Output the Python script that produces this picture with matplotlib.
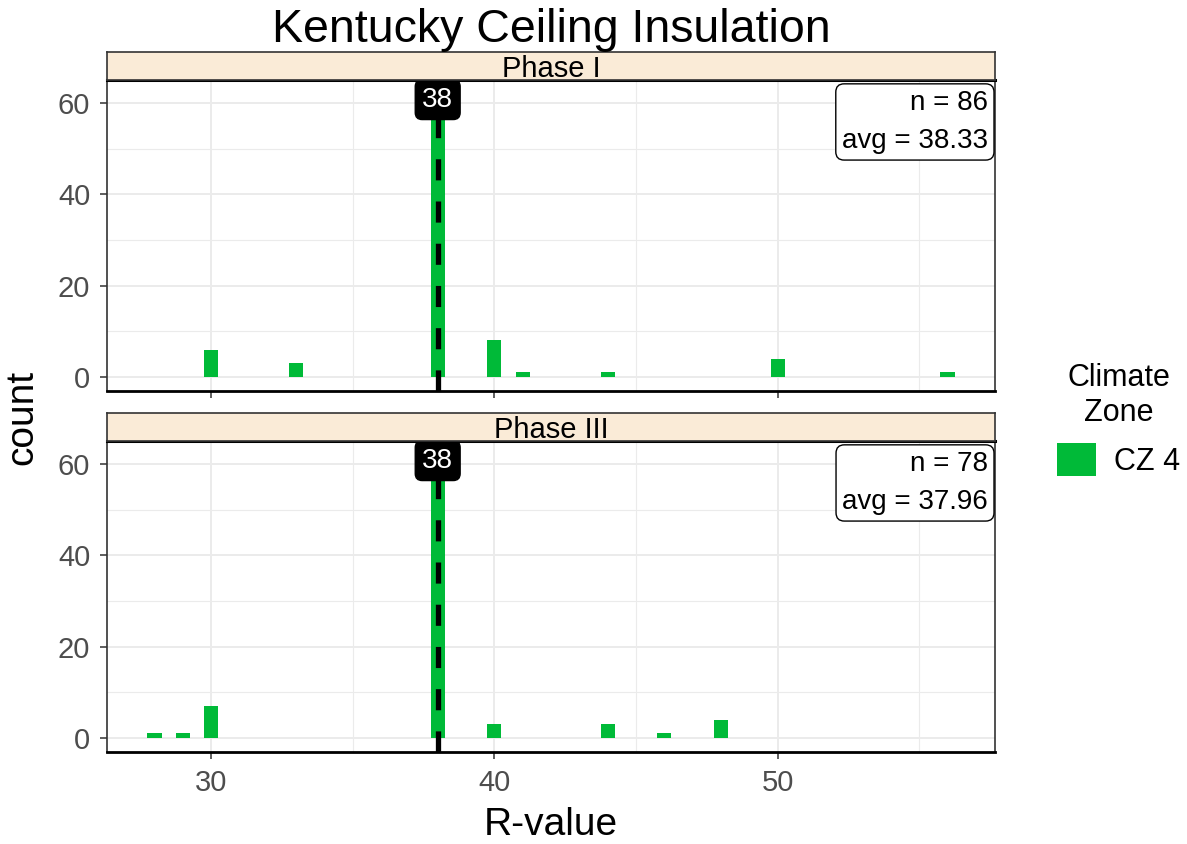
import matplotlib
matplotlib.use("Agg")
import matplotlib.pyplot as plt
from matplotlib.patches import Patch
import numpy as np

plt.rcParams['font.family'] = ['Liberation Sans', 'DejaVu Sans']

# ---- data ----
phases = ["Phase I", "Phase III"]
rvals_phase1 = [30, 33, 38, 40, 41, 44, 50, 56]
counts_phase1 = [6, 3, 62, 8, 1, 1, 4, 1]
rvals_phase3 = [28, 29, 30, 38, 40, 44, 46, 48]
counts_phase3 = [1, 1, 7, 58, 3, 3, 1, 4]
medians = [38, 38]
n_values = [86, 78]
avg_values = [38.33, 37.96]
legend_title = "Climate\nZone"
legend_label = "CZ 4"
title = "Kentucky Ceiling Insulation"
x_ticks = [30, 40, 50]
y_ticks = [0, 20, 40, 60]

GREEN = "#00BA38"
STRIP = "#FAEBD7"
GRID = "#EBEBEB"
TICKC = "#4D4D4D"

W, H = 1187, 844
fig = plt.figure(figsize=(W / 100, H / 100), dpi=100)

def fx(px):
    return px / W

def fy(py):
    return 1 - py / H

left_px, right_px = 107, 995
panels_px = [(80, 391), (441, 752)]
strips_px = [(52, 80), (413, 441)]

series = [(rvals_phase1, counts_phase1), (rvals_phase3, counts_phase3)]
ymax = max(max(counts_phase1), max(counts_phase3))
xmin = min(min(rvals_phase1), min(rvals_phase3)) - 0.25
xmax = max(max(rvals_phase1), max(rvals_phase3)) + 0.25
xr = xmax - xmin

for i in range(2):
    top, bot = panels_px[i]
    ax = fig.add_axes([fx(left_px), fy(bot), fx(right_px - left_px), (bot - top) / H])
    ax.set_xlim(xmin - 0.05 * xr, xmax + 0.05 * xr)
    ax.set_ylim(-0.05 * ymax, ymax * 1.05)
    ax.set_axisbelow(True)
    ax.set_xticks(x_ticks)
    ax.set_xticks([35, 45, 55], minor=True)
    ax.set_yticks(y_ticks)
    ax.set_yticks([10, 30, 50], minor=True)
    ax.grid(True, which='major', color=GRID, lw=1.4)
    ax.grid(True, which='minor', color=GRID, lw=0.8)
    ax.tick_params(which='minor', length=0)
    ax.tick_params(which='major', length=5, width=1.1, color='#333333',
                   labelsize=21, labelcolor=TICKC, pad=7)
    if i == 0:
        ax.tick_params(axis='x', labelbottom=False)
    xs, cs = series[i]
    ax.bar(xs, cs, width=0.5, color=GREEN, zorder=2)
    ax.axvline(medians[i], color='black', lw=3.8, linestyle=(0, (4, 4)), zorder=3)
    ax.text(medians[i], 60.8, str(medians[i]), ha='center', va='center', color='white',
            fontsize=20, zorder=5,
            bbox=dict(boxstyle='round,pad=0.25,rounding_size=0.25', fc='black', ec='black'))
    ax.text(0.992, 0.968, f"n = {n_values[i]}\navg = {avg_values[i]:.2f}",
            transform=ax.transAxes, ha='right', va='top', multialignment='right',
            fontsize=20, linespacing=1.6, zorder=6,
            bbox=dict(boxstyle='round,pad=0.22,rounding_size=0.3', fc='white', ec='black', lw=1.0))
    for s in ax.spines.values():
        s.set_color('#333333')
        s.set_linewidth(1.2)
    ax.spines['bottom'].set_color('black')
    ax.spines['bottom'].set_linewidth(2.0)
    ax.spines['top'].set_color('black')
    ax.spines['top'].set_linewidth(2.2)

    # strip
    st, sb = strips_px[i]
    sax = fig.add_axes([fx(left_px), fy(sb), fx(right_px - left_px), (sb - st) / H])
    sax.set_facecolor(STRIP)
    sax.set_xticks([])
    sax.set_yticks([])
    for s in sax.spines.values():
        s.set_color('#333333')
        s.set_linewidth(1.2)
    sax.text(0.5, 0.1, phases[i], ha='center', va='baseline', fontsize=21,
             transform=sax.transAxes, color='black')

fig.text(fx(551), fy(30), title, ha='center', va='center', fontsize=33.5)
fig.text(fx(551), fy(825), "R-value", ha='center', va='center', fontsize=28)
fig.text(fx(22), fy(417), "count", ha='center', va='center', fontsize=28, rotation=90)

handle = Patch(facecolor=GREEN, edgecolor='none')
leg = fig.legend([handle], [legend_label], title=legend_title, loc='center left',
                 bbox_to_anchor=(fx(1045), fy(420)), frameon=False, fontsize=22,
                 title_fontsize=22, handlelength=1.27, handleheight=1.27,
                 handletextpad=0.6, borderaxespad=0)
leg.get_title().set_multialignment('center')

fig.savefig("out.png", dpi=100)
